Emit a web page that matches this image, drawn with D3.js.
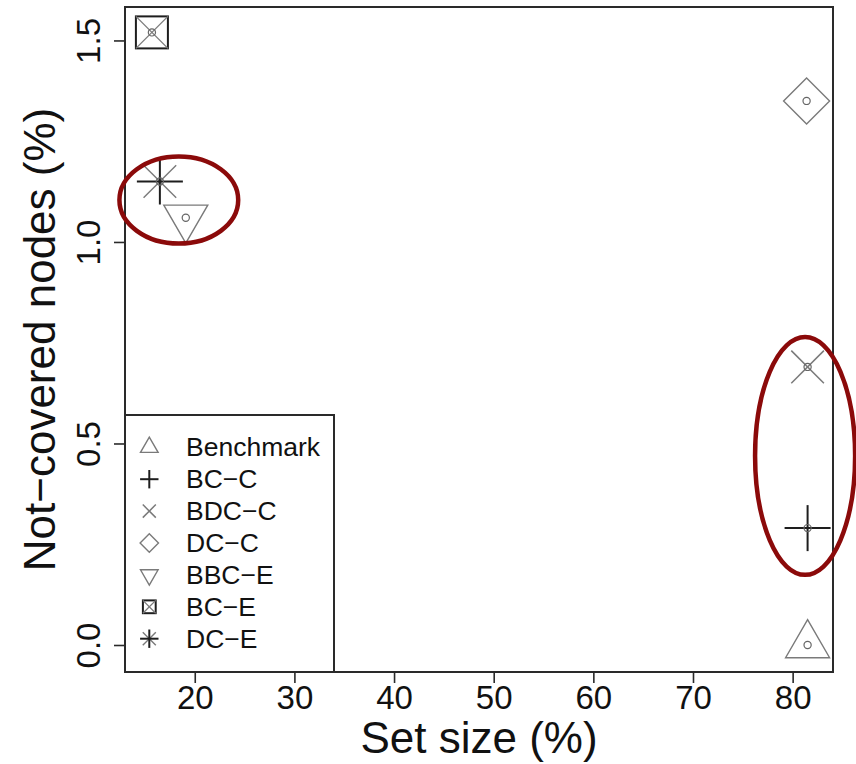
<!DOCTYPE html>
<html>
<head>
<meta charset="utf-8">
<script src="https://cdn.jsdelivr.net/npm/d3@7"></script>
<style>
  html, body { margin: 0; padding: 0; background: #fff; }
  svg { display: block; font-family: "Liberation Sans", Arial, sans-serif; }
</style>
</head>
<body>
<svg id="chart" width="856" height="764"></svg>
<script>
// Methods, their symbols and results
const methods   = ["Benchmark", "BC\u2212C", "BDC\u2212C", "DC\u2212C", "BBC\u2212E", "BC\u2212E", "DC\u2212E"];
const symbols   = ["triangle", "plus", "cross", "diamond", "triangleDown", "squareCross", "asterisk"];
const setSize   = [81.5, 81.5, 81.5, 81.4, 19.1, 15.7, 16.5];
const notCovered = [0.0, 0.29, 0.69, 1.35, 1.06, 1.52, 1.15];

const xTicks = [20, 30, 40, 50, 60, 70, 80];
const yTicks = [0.0, 0.5, 1.0, 1.5];

// Highlight ellipses (centre and radii in data units)
const ringCx = [18.4, 81.25];
const ringCy = [1.104, 0.469];
const ringRx = [5.96, 5.02];
const ringRy = [0.108, 0.295];

const svg = d3.select("#chart");
const box = { left: 125, right: 833, top: 7, bottom: 672 };

const x = d3.scaleLinear().domain([13, 84.05]).range([box.left, box.right]);
const y = d3.scaleLinear().domain([-0.067, 1.583]).range([box.bottom, box.top]);

const DARK = "#1e1e1e", GREY = "#7a7a7a";

// Symbol geometry; s scales the whole glyph
function drawSymbol(g, type, s) {
  const line = (x1, y1, x2, y2, col, w) =>
    g.append("line").attr("x1", x1).attr("y1", y1).attr("x2", x2).attr("y2", y2)
      .attr("stroke", col).attr("stroke-width", w);
  const poly = (pts, col, w) =>
    g.append("path").attr("d", "M" + pts.map(p => p.join(",")).join("L") + "Z")
      .attr("fill", "none").attr("stroke", col).attr("stroke-width", w).attr("stroke-linejoin", "miter");
  const tr = 25.4 * s, th = tr * Math.sqrt(3) / 2;
  switch (type) {
    case "triangle":
      poly([[0, -tr], [th, tr / 2], [-th, tr / 2]], GREY, 1.4); break;
    case "triangleDown":
      poly([[0, tr], [th, -tr / 2], [-th, -tr / 2]], GREY, 1.4); break;
    case "plus":
      line(-23 * s, 0, 23 * s, 0, DARK, 2); line(0, -23 * s, 0, 23 * s, DARK, 2); break;
    case "cross":
      line(-16.3 * s, -16.3 * s, 16.3 * s, 16.3 * s, GREY, 1.5);
      line(-16.3 * s, 16.3 * s, 16.3 * s, -16.3 * s, GREY, 1.5); break;
    case "diamond": {
      const d = 23 * s;
      poly([[0, -d], [d, 0], [0, d], [-d, 0]], GREY, 1.4); break;
    }
    case "squareCross": {
      const h = 16 * s;
      g.append("rect").attr("x", -h).attr("y", -h).attr("width", 2 * h).attr("height", 2 * h)
        .attr("fill", "none").attr("stroke", DARK).attr("stroke-width", 2);
      line(-h, -h, h, h, GREY, 1.3); line(-h, h, h, -h, GREY, 1.3); break;
    }
    case "asterisk":
      line(-16.3 * s, -16.3 * s, 16.3 * s, 16.3 * s, GREY, 1.4);
      line(-16.3 * s, 16.3 * s, 16.3 * s, -16.3 * s, GREY, 1.4);
      line(-23 * s, 0, 23 * s, 0, DARK, 2); line(0, -23 * s, 0, 23 * s, DARK, 2); break;
  }
}

// Plot frame
svg.append("rect")
  .attr("x", box.left).attr("y", box.top)
  .attr("width", box.right - box.left).attr("height", box.bottom - box.top)
  .attr("fill", "none").attr("stroke", "#2a2a2a").attr("stroke-width", 2);

// X axis
const xAxis = svg.append("g").attr("transform", `translate(0,${box.bottom})`)
  .call(d3.axisBottom(x).tickValues(xTicks).tickSize(11).tickPadding(4).tickFormat(d3.format("d")));
xAxis.select(".domain").remove();
xAxis.selectAll("line").attr("stroke", "#2a2a2a").attr("stroke-width", 1.6);
xAxis.selectAll("text").attr("font-size", 33).attr("fill", "#111")
  .attr("font-family", "'Liberation Sans', Arial, sans-serif").attr("dy", null).attr("y", 37);

// Y axis with vertical labels
const yAxis = svg.append("g").attr("transform", `translate(${box.left},0)`)
  .call(d3.axisLeft(y).tickValues(yTicks).tickSize(11).tickFormat(d3.format(".1f")));
yAxis.select(".domain").remove();
yAxis.selectAll("line").attr("stroke", "#2a2a2a").attr("stroke-width", 1.6);
yAxis.selectAll("text").attr("font-size", 33).attr("fill", "#111")
  .attr("font-family", "'Liberation Sans', Arial, sans-serif")
  .attr("x", null).attr("dy", null)
  .attr("text-anchor", "middle")
  .attr("transform", "translate(-25,0) rotate(-90)");

// Axis titles
svg.append("text").attr("x", (box.left + box.right) / 2).attr("y", 753)
  .attr("text-anchor", "middle").attr("font-size", 44).attr("fill", "#111")
  .text("Set size (%)");
svg.append("text").attr("transform", `translate(55,${(box.top + box.bottom) / 2}) rotate(-90)`)
  .attr("text-anchor", "middle").attr("font-size", 44).attr("fill", "#111")
  .text("Not\u2212covered nodes (%)");

// Points
const pts = svg.append("g");
methods.forEach((m, i) => {
  const g = pts.append("g").attr("transform", `translate(${x(setSize[i])},${y(notCovered[i])})`);
  drawSymbol(g, symbols[i], 1);
  g.append("circle").attr("r", 3.6).attr("fill", "none").attr("stroke", "#666").attr("stroke-width", 1.2);
});

// Highlight rings
svg.append("g").selectAll("ellipse").data(ringCx).join("ellipse")
  .attr("cx", (d, i) => x(ringCx[i]))
  .attr("cy", (d, i) => y(ringCy[i]))
  .attr("rx", (d, i) => x(ringCx[i] + ringRx[i]) - x(ringCx[i]))
  .attr("ry", (d, i) => y(ringCy[i]) - y(ringCy[i] + ringRy[i]))
  .attr("fill", "none").attr("stroke", "#8b0a0a").attr("stroke-width", 4.5);

// Legend
const leg = { left: box.left, top: 415, right: 334, bottom: box.bottom };
const lg = svg.append("g");
lg.append("rect").attr("x", leg.left).attr("y", leg.top)
  .attr("width", leg.right - leg.left).attr("height", leg.bottom - leg.top)
  .attr("fill", "#fff").attr("stroke", "#2a2a2a").attr("stroke-width", 2);
methods.forEach((m, i) => {
  const cy = 447.3 + i * 31.9;
  const g = lg.append("g").attr("transform", `translate(149.3,${cy})`);
  drawSymbol(g, symbols[i], 0.4);
  lg.append("text").attr("x", 186).attr("y", cy + 8.8)
    .attr("font-size", 26.5).attr("fill", "#111").text(m);
});
</script>
</body>
</html>
